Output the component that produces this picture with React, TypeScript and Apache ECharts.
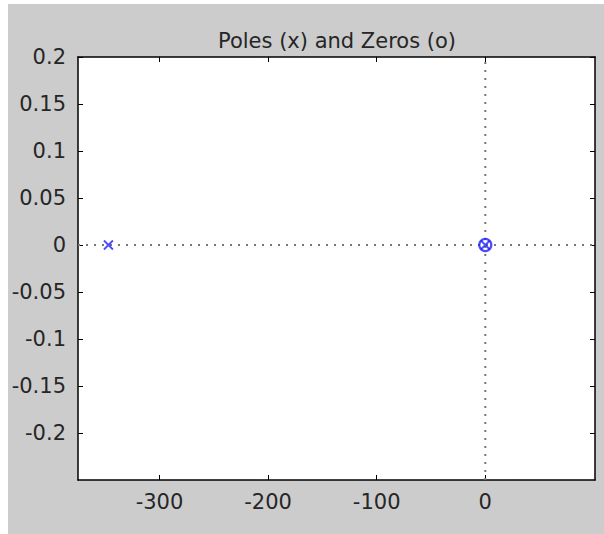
import React, { useEffect, useRef } from "react";
import * as echarts from "echarts";

const xMin = -375;
const xMax = 101;
const yMin = -0.25;
const yMax = 0.2;
const xTickValues = [-300, -200, -100, 0];
const yTickValues = [-0.2, -0.15, -0.1, -0.05, 0, 0.05, 0.1, 0.15, 0.2];
const poleX = [-347, 0];
const poleY = [0, 0];
const zeroX = [0];
const zeroY = [0];
const titleText = "Poles (x) and Zeros (o)";

const FONT = "'DejaVu Sans', sans-serif";
const BLUE = "#1f1fff";

export default function App() {
  const ref = useRef<HTMLDivElement>(null);
  useEffect(() => {
    if (!ref.current) return;
    const chart = echarts.init(ref.current, undefined, { renderer: "svg" });
    const axisCommon = {
      type: "value" as const,
      axisLine: { show: true, onZero: false, lineStyle: { color: "#000", width: 1.5 } },
      splitLine: { show: false },
    };
    chart.setOption({
      animation: false,
      backgroundColor: "#cccccc",
      graphic: [
        {
          type: "rect",
          shape: { x: 70, y: 53, width: 517, height: 423 },
          style: { fill: "#ffffff" },
          z: -10,
          silent: true,
        },
        {
          type: "text",
          x: 329,
          y: 37,
          style: {
            text: titleText,
            fontFamily: FONT,
            fontSize: 21,
            fill: "#262626",
            textAlign: "center",
            textVerticalAlign: "middle",
          },
        },
      ],
      grid: { left: 70, top: 53, right: 9, bottom: 54, containLabel: false },
      xAxis: [
        {
          ...axisCommon,
          position: "bottom",
          min: xMin,
          max: xMax,
          axisTick: { show: true, inside: true, length: 5, customValues: xTickValues, lineStyle: { color: "#000" } },
          axisLabel: {
            show: true,
            customValues: xTickValues,
            margin: 11,
            fontFamily: FONT,
            fontSize: 21,
            color: "#262626",
            formatter: (v: number) => String(v),
          },
        },
        {
          ...axisCommon,
          position: "top",
          min: xMin,
          max: xMax,
          axisTick: { show: true, inside: true, length: 5, customValues: xTickValues, lineStyle: { color: "#000" } },
          axisLabel: { show: false },
        },
      ],
      yAxis: [
        {
          ...axisCommon,
          position: "left",
          min: yMin,
          max: yMax,
          axisTick: { show: true, inside: true, length: 5, customValues: yTickValues, lineStyle: { color: "#000" } },
          axisLabel: {
            show: true,
            customValues: yTickValues,
            margin: 12,
            fontFamily: FONT,
            fontSize: 21,
            color: "#262626",
            formatter: (v: number) => String(v),
          },
        },
        {
          ...axisCommon,
          position: "right",
          min: yMin,
          max: yMax,
          axisTick: { show: true, inside: true, length: 5, customValues: yTickValues, lineStyle: { color: "#000" } },
          axisLabel: { show: false },
        },
      ],
      series: [
        {
          type: "line",
          data: [[xMin, 0], [xMax, 0]],
          symbol: "none",
          lineStyle: { color: "#777", width: 2, type: [2, 6] },
          z: 1,
        },
        {
          type: "line",
          data: [[0, yMin], [0, yMax]],
          symbol: "none",
          lineStyle: { color: "#777", width: 2, type: [2, 6] },
          z: 1,
        },
        {
          type: "scatter",
          data: poleX.map((x, i) => [x, poleY[i]]),
          symbol: "path://M0,0L10,10M10,0L0,10",
          symbolSize: 9,
          itemStyle: { color: "none", borderColor: BLUE, borderWidth: 1.8 },
          z: 5,
        },
        {
          type: "scatter",
          data: zeroX.map((x, i) => [x, zeroY[i]]),
          symbol: "circle",
          symbolSize: 12,
          itemStyle: { color: "none", borderColor: BLUE, borderWidth: 2.2 },
          z: 5,
        },
      ],
    });
    return () => chart.dispose();
  }, []);
  return (
    <div
      ref={ref}
      style={{ position: "absolute", left: 8, top: 4, width: 596, height: 530 }}
    />
  );
}
